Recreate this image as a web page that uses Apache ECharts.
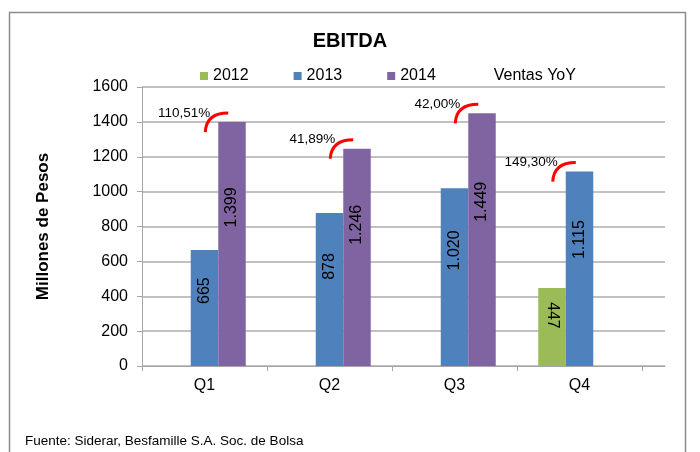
<!DOCTYPE html>
<html>
<head>
<meta charset="utf-8">
<script src="https://cdn.jsdelivr.net/npm/echarts@6/dist/echarts.min.js"></script>
<style>html,body{margin:0;padding:0;background:#fff;}#c{width:700px;height:452px;}</style>
</head>
<body>
<div id="c"></div>
<script>
const categories = ['Q1', 'Q2', 'Q3', 'Q4'];
const ebitda2012 = [null, null, null, 447];
const ebitda2013 = [665, 878, 1020, 1115];
const ebitda2014 = [1399, 1246, 1449, null];
const ventasYoY = ['110,51%', '41,89%', '42,00%', '149,30%'];
const yMin = 0, yMax = 1600, yStep = 200;

const FONT = '"Liberation Sans", Arial, sans-serif';
const GAP = 0.34;

function fmt(v) {
  const s = String(v);
  return v >= 1000 ? s.slice(0, s.length - 3) + '.' + s.slice(-3) : s;
}

const series3 = [ebitda2012, ebitda2013, ebitda2014];
const yoyData = categories.map((c, i) => {
  let k = 0, m = -Infinity;
  series3.forEach((s, j) => { if (s[i] != null && s[i] > m) { m = s[i]; k = j; } });
  return [i, m, k];
});

const chart = echarts.init(document.getElementById('c'), null, { renderer: 'canvas' });

function barLabel(rot) {
  return {
    show: true, position: ['50%', '35%'], rotate: rot, align: 'center', verticalAlign: 'middle',
    color: '#000', fontSize: 16, fontFamily: FONT,
    formatter: p => fmt(p.value)
  };
}

chart.setOption({
  animation: false,
  backgroundColor: '#fff',
  title: {
    text: 'EBITDA', left: 'center', top: 26,
    textStyle: { fontSize: 20, fontWeight: 'bold', fontFamily: FONT, color: '#000' }
  },
  legend: {
    left: 195, top: 63, itemWidth: 8, itemHeight: 8, itemGap: 45,
    textStyle: { fontSize: 16, fontFamily: FONT, color: '#000' },
    data: [
      { name: '2012', icon: 'rect' },
      { name: '2013', icon: 'rect' },
      { name: '2014', icon: 'rect' },
      { name: 'Ventas YoY', icon: 'none' }
    ]
  },
  grid: [
    { left: 142, right: 58, top: 87, bottom: 86 },
    { left: 142, right: 35, top: 87, bottom: 86 }
  ],
  xAxis: [
    {
      type: 'category', gridIndex: 0, data: categories,
      axisLine: { lineStyle: { color: '#a6a6a6', width: 1 } },
      axisTick: { show: true, length: 5, lineStyle: { color: '#a6a6a6' } },
      axisLabel: { color: '#000', fontSize: 16, fontFamily: FONT, margin: 12 }
    },
    {
      type: 'value', gridIndex: 1, min: 0, max: 1,
      axisLine: { show: true, lineStyle: { color: '#a6a6a6', width: 1 } },
      axisTick: { show: false }, axisLabel: { show: false }, splitLine: { show: false }
    }
  ],
  yAxis: [
    {
      type: 'value', gridIndex: 0, min: yMin, max: yMax, interval: yStep,
      name: 'Millones de Pesos', nameLocation: 'middle', nameRotate: 90, nameGap: 90,
      nameTextStyle: { fontSize: 17, fontWeight: 'bold', fontFamily: FONT, color: '#000' },
      axisLine: { show: true, lineStyle: { color: '#a6a6a6', width: 1 } },
      axisTick: { show: true, length: 5, lineStyle: { color: '#a6a6a6' } },
      axisLabel: { color: '#000', fontSize: 16, fontFamily: FONT, margin: 14, formatter: v => String(v) },
      splitLine: { show: false }
    },
    {
      type: 'value', gridIndex: 1, min: yMin, max: yMax, interval: yStep,
      axisLine: { show: false }, axisTick: { show: false }, axisLabel: { show: false },
      splitLine: { show: true, lineStyle: { color: '#adadad', width: 1.5 } }
    }
  ],
  series: [
    {
      name: '2012', type: 'bar', xAxisIndex: 0, yAxisIndex: 0, data: ebitda2012,
      barGap: '0%', barCategoryGap: (GAP * 100) + '%',
      itemStyle: { color: '#9bbb59' }, label: barLabel(-90)
    },
    {
      name: '2013', type: 'bar', xAxisIndex: 0, yAxisIndex: 0, data: ebitda2013,
      barGap: '0%', barCategoryGap: (GAP * 100) + '%',
      itemStyle: { color: '#4f81bd' }, label: barLabel(90)
    },
    {
      name: '2014', type: 'bar', xAxisIndex: 0, yAxisIndex: 0, data: ebitda2014,
      barGap: '0%', barCategoryGap: (GAP * 100) + '%',
      itemStyle: { color: '#8064a2' }, label: barLabel(90)
    },
    {
      name: 'Ventas YoY', type: 'custom', xAxisIndex: 0, yAxisIndex: 0,
      data: yoyData, encode: { x: 0, y: 1 }, z: 5,
      renderItem: function (params, api) {
        const i = api.value(0), v = api.value(1), k = api.value(2);
        const band = api.size([1, 0])[0];
        const bw = band * (1 - GAP) / 3;
        const c = api.coord([i, v]);
        const left = c[0] - 1.5 * bw + k * bw;
        const top = c[1];
        return {
          type: 'group',
          children: [
            {
              type: 'bezierCurve',
              shape: { x1: left - 13, y1: top + 10, cpx1: left - 12, cpy1: top - 9, x2: left + 10, y2: top - 9 },
              style: { stroke: '#ff0000', lineWidth: 3, fill: null }
            },
            {
              type: 'text',
              style: {
                text: ventasYoY[i], x: left - 8, y: top - 9, align: 'right', verticalAlign: 'middle',
                font: '13.5px ' + FONT, fill: '#000'
              }
            }
          ]
        };
      }
    }
  ],
  graphic: [
    {
      type: 'rect', shape: { x: 9.5, y: 12.5, width: 676, height: 470 },
      style: { fill: null, stroke: '#8c8c8c', lineWidth: 1.5 }, silent: true
    },
    {
      type: 'text', left: 25, top: 434,
      style: { text: 'Fuente: Siderar, Besfamille S.A. Soc. de Bolsa', font: '13.5px ' + FONT, fill: '#000' }
    }
  ]
});
</script>
</body>
</html>
